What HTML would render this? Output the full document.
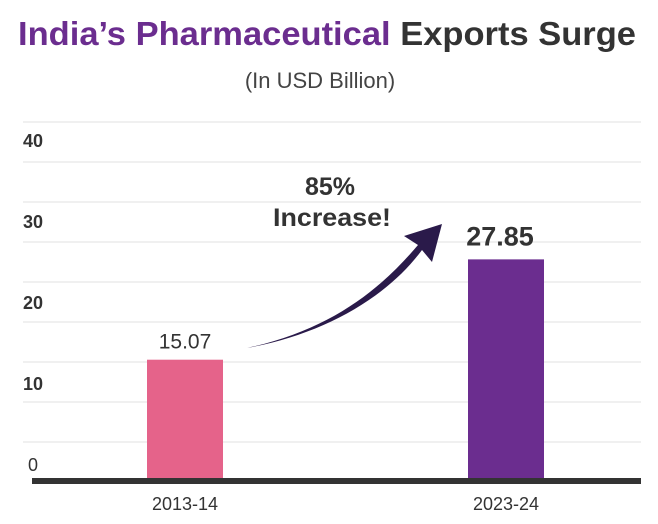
<!DOCTYPE html>
<html><head><meta charset="utf-8"><style>
body{margin:0;background:#fff;width:658px;height:524px;overflow:hidden}
svg{display:block;font-family:"Liberation Sans",sans-serif}
</style></head><body>
<svg id="c" width="658" height="524">
<text x="18" y="45" font-size="33" font-weight="bold" textLength="618" lengthAdjust="spacingAndGlyphs"><tspan fill="#6b2d8f">India’s Pharmaceutical</tspan><tspan fill="#333"> Exports Surge</tspan></text>
<text x="320" y="88" font-size="22" fill="#444" text-anchor="middle">(In USD Billion)</text>
<g id="grid"></g><g id="bars"></g>
<path d="M247,348 C330,330 380,290 418,245 L404,236 L442,224 L432,262 L422,250 C385,300 320,335 247,348 Z" fill="#2a1a4a"/>
<text x="330" y="195" font-size="25" font-weight="bold" fill="#333" text-anchor="middle">85%</text>
<text x="332" y="226" font-size="25" font-weight="bold" fill="#333" text-anchor="middle" textLength="118" lengthAdjust="spacingAndGlyphs">Increase!</text>
</svg>
<script>
const categories=["2013-14","2023-24"];
const values=[15.07,27.85];
const valueLabels=["15.07","27.85"];
const ticks=[0,10,20,30,40];
const colors=["#e5638a","#6b2d8f"];
const ns="http://www.w3.org/2000/svg";
const base=478;
function y(v){return base-v*7.85;}
function tickY(v){return 471-v*8.1;}
function x(i){return 147+i*321;}
const bw=76;
const g=document.getElementById('grid'),b=document.getElementById('bars');
function mk(t,a,p){const e=document.createElementNS(ns,t);for(const k in a)e.setAttribute(k,a[k]);p.appendChild(e);return e;}
for(let i=0;i<9;i++){const l=mk('line',{x1:23,x2:641,y1:122+i*40,y2:122+i*40,stroke:'#e6e6e6','stroke-width':1.3},g);

}
ticks.forEach(t=>{const e=mk('text',{x:t===0?28:23,y:tickY(t),'font-size':18,'font-weight':t===0?'normal':'bold',fill:'#333'},g);e.textContent=t;

});
values.forEach((v,i)=>{const r=mk('rect',{x:x(i),y:y(v),width:bw,height:base-y(v),fill:colors[i]},b);


const t=mk('text',{x:x(i)+bw/2+(i?-6:0),y:y(v)-(i?14:11),'font-size':i?27:21,'font-weight':i?'bold':'normal',fill:'#333','text-anchor':'middle'},b);t.textContent=valueLabels[i];


const c=mk('text',{x:x(i)+bw/2,y:510,'font-size':18,fill:'#333','text-anchor':'middle'},b);c.textContent=categories[i];

});
const ax=mk('rect',{x:32,y:base,width:609,height:6,fill:'#333'},b);


</script>
</body></html>
